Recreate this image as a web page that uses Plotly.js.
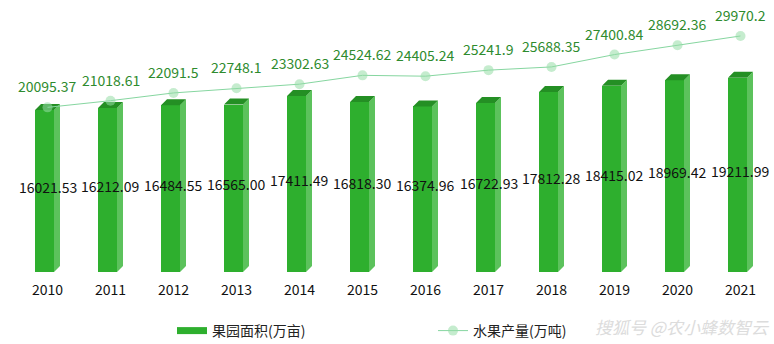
<!DOCTYPE html>
<html>
<head>
<meta charset="utf-8">
<script src="https://cdn.plot.ly/plotly-3.0.1.min.js"></script>
<style>html,body{margin:0;padding:0;background:#fff;}#chart{width:774px;height:344px;}</style>
</head>
<body>
<div id="chart"></div>
<script>
// ---- data ----
const years = ['2010','2011','2012','2013','2014','2015','2016','2017','2018','2019','2020','2021'];
const orchardArea = [16021.53,16212.09,16484.55,16565.00,17411.49,16818.30,16374.96,16722.93,17812.28,18415.02,18969.42,19211.99];
const orchardAreaLabels = ['16021.53','16212.09','16484.55','16565.00','17411.49','16818.30','16374.96','16722.93','17812.28','18415.02','18969.42','19211.99'];
const fruitOutput = [20095.37,21018.61,22091.5,22748.1,23302.63,24524.62,24405.24,25241.9,25688.35,27400.84,28692.36,29970.2];
const fruitOutputLabels = ['20095.37','21018.61','22091.5','22748.1','23302.63','24524.62','24405.24','25241.9','25688.35','27400.84','28692.36','29970.2'];
const seriesNames = ['果园面积(万亩)','水果产量(万吨)'];

// ---- layout constants ----
const W = 774, H = 344;
const M = {l:16, r:2, t:0, b:72};
const plotW = W - M.l - M.r, plotH = H - M.t - M.b;
const xRange = [-0.5, 11.5];
const yRange = [0, 26900];
const y2Range = [-2684, 34948];
const pxX = plotW / (xRange[1]-xRange[0]);
const pxY = plotH / (yRange[1]-yRange[0]);
const FONT = '"Noto Sans CJK SC", "Noto Sans", sans-serif';

const xs = years.map((_, i) => i);
// 3D bar geometry in px
const frontL = -12.5, frontR = 6.5, sideR = 12.5, depthY = 6;
const dx = p => p / pxX, dyv = p => p / pxY;

const sideX = [], sideY = [], topX = [], topY = [];
xs.forEach((c, i) => {
  const v = orchardArea[i];
  sideX.push(c+dx(frontR), c+dx(frontR), c+dx(sideR), c+dx(sideR), c+dx(frontR), null);
  sideY.push(0, v, v+dyv(depthY), dyv(depthY), 0, null);
  topX.push(c+dx(frontL), c+dx(frontR), c+dx(sideR), c+dx(frontL+(sideR-frontR)), c+dx(frontL), null);
  topY.push(v, v, v+dyv(depthY), v+dyv(depthY), v, null);
});

const traces = [
  {type:'bar', name: seriesNames[0], x: xs, y: orchardArea, width: dx(frontR-frontL), offset: dx(frontL),
   marker:{color:'#2eaf2e', line:{width:0}}, hoverinfo:'skip', showlegend:false},
  {type:'scatter', mode:'lines', x: sideX, y: sideY, fill:'toself', fillcolor:'#5cc25c',
   line:{width:0, color:'#5cc25c'}, showlegend:false, hoverinfo:'skip'},
  {type:'scatter', mode:'lines', x: topX, y: topY, fill:'toself', fillcolor:'#248f24',
   line:{width:0, color:'#248f24'}, showlegend:false, hoverinfo:'skip'},
  // legend entry for the bars (wide flat swatch)
  {type:'scatter', mode:'lines', name: seriesNames[0], x:[null], y:[null], line:{color:'#2eaf2e', width:7}, hoverinfo:'skip'},
  {type:'scatter', mode:'lines+markers', name: seriesNames[1], x: xs, y: fruitOutput, yaxis:'y2',
   line:{color:'#86d6a0', width:1}, marker:{size:10, color:'rgba(150,220,165,0.55)'}, hoverinfo:'skip'}
];

const annotations = [];
xs.forEach((c, i) => {
  annotations.push({x:c, y: orchardArea[i]/2, xref:'x', yref:'y', text: orchardAreaLabels[i], showarrow:false,
    yshift: 4, font:{family:FONT, size:14, color:'#111'}});
  annotations.push({x:c, y: fruitOutput[i], xref:'x', yref:'y2', text: fruitOutputLabels[i], showarrow:false,
    yshift: 21, font:{family:FONT, size:14, color:'#2e8b2e'}});
});
annotations.push({xref:'paper', yref:'paper', x:1, y:-0.2, xanchor:'right', yanchor:'middle', showarrow:false,
  text:'<i>搜狐号 @农小蜂数智云</i>', font:{family:FONT, size:17, color:'#dcdcdc'}});

const layout = {
  width: W, height: H, margin: M,
  paper_bgcolor:'#fff', plot_bgcolor:'#fff',
  font:{family:FONT, size:14, color:'#222'},
  showlegend: true,
  bargap: 0,
  xaxis:{range:xRange, tickvals: xs, ticktext: years, showgrid:false, zeroline:false, showline:false,
    ticks:'', ticklabelstandoff: 8, tickfont:{family:FONT, size:14, color:'#111'}, fixedrange:true},
  yaxis:{range:yRange, visible:false, showgrid:false, zeroline:false},
  yaxis2:{range:y2Range, overlaying:'y', visible:false, showgrid:false, zeroline:false},
  legend:{orientation:'h', xref:'container', yref:'container', x:172/774, y:(344-331)/344, xanchor:'left', yanchor:'middle',
    itemwidth:30, entrywidth:216, entrywidthmode:'pixels', font:{family:FONT, size:14, color:'#222'}, bgcolor:'rgba(0,0,0,0)'},
  annotations: annotations
};

Plotly.newPlot('chart', traces, layout, {staticPlot:true, displayModeBar:false});
</script>
</body>
</html>
